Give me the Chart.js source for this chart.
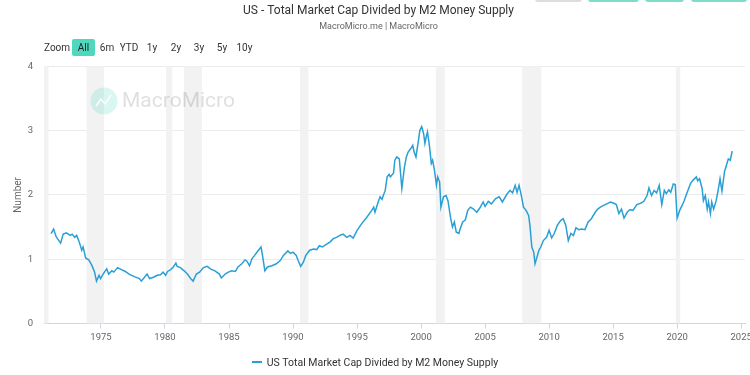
<!DOCTYPE html>
<html>
<head>
<meta charset="utf-8">
<script src="https://cdn.jsdelivr.net/npm/chart.js@4.4.1/dist/chart.umd.min.js"></script>
<style>
  html, body { margin: 0; padding: 0; background: #fff; }
  #wrap { position: relative; width: 750px; height: 375px; font-family: Roboto, "Liberation Sans", sans-serif; }
  #myChart { position: absolute; left: 0; top: 0; }
  .range { position: absolute; top: 39px; height: 17px; line-height: 17px; font-size: 10px; color: #333; }
  .range.btn { text-align: center; }
  .range.sel { background: #4fd8bd; color: #222; border-radius: 2px; }
  .topbox { position: absolute; top: -6px; height: 8px; border-radius: 3px; }
  #legend { position: absolute; left: 0; width: 750px; top: 356px; text-align: center; font-size: 10.5px; color: #333; line-height: 14px; }
  #legend .swatch { display: inline-block; width: 10px; height: 2px; vertical-align: middle; margin-right: 5px; position: relative; top: -1px; }
</style>
</head>
<body>
<div id="wrap">
  <canvas id="myChart" width="750" height="375"></canvas>
  <div class="topbox" style="left:535px;width:47px;background:#ddd"></div>
  <div class="topbox" style="left:588px;width:51px;background:#7fdcc8"></div>
  <div class="topbox" style="left:645px;width:39px;background:#7fdcc8"></div>
  <div class="topbox" style="left:691px;width:56px;background:#7fdcc8"></div>
  <div class="range" style="left:44px">Zoom</div>
  <div class="range btn sel" style="left:72px;width:23px">All</div>
  <div class="range btn" style="left:99px;width:16px">6m</div>
  <div class="range btn" style="left:119px;width:20px">YTD</div>
  <div class="range btn" style="left:145px;width:14px">1y</div>
  <div class="range btn" style="left:169px;width:14px">2y</div>
  <div class="range btn" style="left:192px;width:14px">3y</div>
  <div class="range btn" style="left:215px;width:14px">5y</div>
  <div class="range btn" style="left:236px;width:17px">10y</div>
  <div id="legend"></div>
</div>
<script>
// decimal years and ratio values
const dates = [
  1971.1, 1971.3, 1971.5, 1971.6, 1971.85, 1972.05, 1972.3, 1972.6, 1972.75, 1972.95,
  1973.1, 1973.3, 1973.5, 1973.6, 1973.7, 1973.8, 1974.05, 1974.3, 1974.5, 1974.65,
  1974.85, 1974.97, 1975.2, 1975.45, 1975.6, 1975.85, 1976.0, 1976.3, 1976.6, 1976.9,
  1977.2, 1977.6, 1978.0, 1978.15, 1978.4, 1978.6, 1978.8, 1979.1, 1979.4, 1979.65,
  1979.85, 1980.05, 1980.2, 1980.45, 1980.65, 1980.85, 1980.95, 1981.2, 1981.5, 1981.75,
  1982.0, 1982.2, 1982.45, 1982.7, 1983.0, 1983.3, 1983.55, 1983.9, 1984.25, 1984.4,
  1984.7, 1984.95, 1985.2, 1985.5, 1985.7, 1986.0, 1986.25, 1986.4, 1986.6, 1986.8,
  1987.0, 1987.3, 1987.5, 1987.6, 1987.8, 1988.0, 1988.35, 1988.7, 1989.0, 1989.25,
  1989.6, 1989.8, 1990.0, 1990.25, 1990.4, 1990.6, 1990.8, 1991.0, 1991.3, 1991.6,
  1991.85, 1992.05, 1992.3, 1992.6, 1992.9, 1993.15, 1993.4, 1993.65, 1993.9, 1994.2,
  1994.45, 1994.7, 1995.0, 1995.35, 1995.75, 1996.15, 1996.3, 1996.4, 1996.65, 1996.8,
  1996.95, 1997.05, 1997.2, 1997.35, 1997.5, 1997.6, 1997.85, 1997.95, 1998.1, 1998.3,
  1998.5, 1998.7, 1998.85, 1999.0, 1999.2, 1999.35, 1999.45, 1999.6, 1999.8, 1999.9,
  2000.05, 2000.2, 2000.3, 2000.4, 2000.5, 2000.65, 2000.8, 2000.9, 2001.05, 2001.2,
  2001.3, 2001.45, 2001.55, 2001.75, 2001.95, 2002.1, 2002.3, 2002.45, 2002.6, 2002.75,
  2002.95, 2003.05, 2003.25, 2003.45, 2003.65, 2003.85, 2004.1, 2004.35, 2004.6, 2004.85,
  2005.0, 2005.25, 2005.5, 2005.8, 2006.1, 2006.35, 2006.7, 2006.95, 2007.15, 2007.35,
  2007.5, 2007.65, 2007.8, 2008.0, 2008.2, 2008.4, 2008.5, 2008.65, 2008.8, 2008.9,
  2009.05, 2009.2, 2009.35, 2009.55, 2009.8, 2010.0, 2010.2, 2010.4, 2010.65, 2010.9,
  2011.1, 2011.3, 2011.5, 2011.7, 2011.9, 2012.1, 2012.3, 2012.55, 2012.8, 2013.05,
  2013.3, 2013.6, 2013.8, 2014.0, 2014.3, 2014.5, 2014.8, 2015.05, 2015.25, 2015.45,
  2015.65, 2015.85, 2016.1, 2016.3, 2016.55, 2016.85, 2017.15, 2017.4, 2017.65, 2017.8,
  2018.0, 2018.2, 2018.4, 2018.6, 2018.8, 2019.0, 2019.15, 2019.35, 2019.5, 2019.7,
  2019.85, 2020.0, 2020.2, 2020.4, 2020.55, 2020.75, 2020.9, 2021.05, 2021.25, 2021.5,
  2021.6, 2021.75, 2021.95, 2022.05, 2022.2, 2022.35, 2022.45, 2022.6, 2022.7, 2022.85,
  2023.05, 2023.2, 2023.35, 2023.5, 2023.7, 2023.85, 2024.0, 2024.15, 2024.3
];
const values = [
  1.40, 1.47, 1.35, 1.32, 1.25, 1.39, 1.41, 1.37, 1.39, 1.34,
  1.37, 1.27, 1.14, 1.19, 1.11, 1.02, 0.99, 0.90, 0.80, 0.66,
  0.75, 0.70, 0.78, 0.85, 0.77, 0.82, 0.80, 0.87, 0.84, 0.81,
  0.77, 0.73, 0.70, 0.66, 0.72, 0.77, 0.70, 0.72, 0.75, 0.76,
  0.80, 0.75, 0.81, 0.84, 0.88, 0.94, 0.89, 0.87, 0.82, 0.77,
  0.70, 0.66, 0.77, 0.80, 0.87, 0.89, 0.85, 0.82, 0.77, 0.71,
  0.77, 0.80, 0.82, 0.81, 0.88, 0.93, 0.99, 0.97, 0.90, 1.01,
  1.06, 1.14, 1.19, 1.08, 0.82, 0.88, 0.90, 0.93, 0.98, 1.06,
  1.13, 1.09, 1.11, 1.06, 0.98, 0.89, 0.95, 1.06, 1.14, 1.16,
  1.15, 1.21, 1.19, 1.23, 1.27, 1.32, 1.34, 1.37, 1.39, 1.34,
  1.37, 1.33, 1.45, 1.55, 1.65, 1.76, 1.81, 1.73, 1.89, 1.97,
  1.93, 1.99, 2.07, 2.28, 2.32, 2.28, 2.34, 2.54, 2.59, 2.56,
  2.10, 2.43, 2.59, 2.67, 2.72, 2.77, 2.67, 2.59, 2.85, 3.00,
  3.06, 2.95, 2.80, 2.90, 2.98, 2.77, 2.49, 2.54, 2.38, 2.15,
  2.28, 2.20, 1.81, 1.97, 1.99, 1.91, 1.65, 1.50, 1.58, 1.42,
  1.40, 1.47, 1.58, 1.61, 1.76, 1.81, 1.78, 1.73, 1.80, 1.89,
  1.82, 1.90, 1.86, 1.94, 1.97, 1.89, 2.01, 2.07, 2.03, 2.15,
  2.04, 2.15, 2.02, 1.81, 1.76, 1.68, 1.53, 1.19, 1.11, 0.93,
  1.03, 1.14, 1.19, 1.29, 1.34, 1.45, 1.33, 1.40, 1.53, 1.60,
  1.63, 1.53, 1.29, 1.40, 1.37, 1.49, 1.46, 1.47, 1.46, 1.58,
  1.63, 1.73, 1.78, 1.81, 1.84, 1.86, 1.89, 1.87, 1.85, 1.71,
  1.78, 1.64, 1.73, 1.77, 1.76, 1.85, 1.87, 1.90, 1.99, 2.11,
  1.99, 2.07, 2.03, 2.15, 1.85, 2.07, 2.02, 2.08, 2.04, 2.17,
  2.16, 1.64, 1.76, 1.84, 1.91, 2.02, 2.10, 2.18, 2.23, 2.28,
  2.22, 2.25, 2.10, 1.91, 1.99, 1.78, 1.89, 1.71, 1.89, 1.78,
  1.91, 2.07, 2.25, 2.06, 2.36, 2.46, 2.56, 2.54, 2.68
];
const tickYears = [1975, 1980, 1985, 1990, 1995, 2000, 2005, 2010, 2015, 2020, 2025];
const yTicks = [0, 1, 2, 3, 4];
// US recessions (shaded)
const recessionStart = [1969.9, 1973.88, 1980.08, 1981.48, 1990.55, 2001.15, 2007.9, 2019.9];
const recessionEnd   = [1970.9, 1975.23, 1980.57, 1982.89, 1991.2, 2001.85, 2009.4, 2020.25];

const seriesName = 'US Total Market Cap Divided by M2 Money Supply';
const lineColor = '#2a9fd6';

document.getElementById('legend').innerHTML =
  '<span class="swatch" style="background:' + lineColor + '"></span>' + seriesName;

const backdrop = {
  id: 'backdrop',
  beforeDatasetsDraw(chart) {
    const { ctx, chartArea: a, scales: { x } } = chart;
    ctx.save();
    ctx.beginPath();
    ctx.rect(a.left, a.top, a.right - a.left, a.bottom - a.top);
    ctx.clip();
    ctx.fillStyle = '#f2f2f2';
    recessionStart.forEach((s, i) => {
      const x0 = x.getPixelForValue(s);
      const x1 = x.getPixelForValue(recessionEnd[i]);
      ctx.fillRect(x0, a.top, x1 - x0, a.bottom - a.top);
    });
    ctx.restore();
    // watermark
    ctx.save();
    ctx.fillStyle = 'rgba(80, 214, 185, 0.22)';
    ctx.beginPath();
    ctx.arc(104, 101, 13.5, 0, Math.PI * 2);
    ctx.fill();
    ctx.strokeStyle = 'rgba(255,255,255,0.9)';
    ctx.lineWidth = 1.5;
    ctx.beginPath();
    ctx.moveTo(96, 106); ctx.lineTo(101, 99); ctx.lineTo(105, 104); ctx.lineTo(111, 95);
    ctx.stroke();
    ctx.fillStyle = 'rgba(0, 0, 0, 0.13)';
    ctx.font = '21px Roboto, sans-serif';
    ctx.textBaseline = 'middle';
    ctx.fillText('MacroMicro', 122, 102);
    ctx.restore();
  }
};

const ctx = document.getElementById('myChart').getContext('2d');
const myChart = new Chart(ctx, {
  type: 'line',
  data: {
    datasets: [{
      label: seriesName,
      data: dates.map((d, i) => ({ x: d, y: values[i] })),
      borderColor: lineColor,
      backgroundColor: lineColor,
      borderWidth: 1.5,
      pointRadius: 0,
      tension: 0
    }]
  },
  options: {
    responsive: false,
    animation: false,
    layout: {
      padding: { left: 12, right: 5, top: 0, bottom: 29 }
    },
    plugins: {
      title: {
        display: true,
        text: 'US - Total Market Cap Divided by M2 Money Supply',
        color: '#333',
        font: { family: 'Roboto', size: 12, weight: 'normal' },
        padding: { top: 4, bottom: 2 }
      },
      subtitle: {
        display: true,
        text: 'MacroMicro.me | MacroMicro',
        color: '#666',
        font: { family: 'Roboto', size: 9 },
        padding: { top: 1, bottom: 34 }
      },
      legend: { display: false },
      tooltip: { enabled: false }
    },
    scales: {
      x: {
        type: 'linear',
        min: 1970.55,
        max: 2025.3,
        afterBuildTicks: (s) => { s.ticks = tickYears.map(v => ({ value: v })); },
        afterFit: (s) => { s.paddingRight = 0; s.paddingLeft = 0; },
        grid: { drawOnChartArea: false, drawTicks: true, tickLength: 5, color: '#ccd6eb' },
        border: { color: '#ccd6eb' },
        ticks: {
          color: '#666',
          font: { family: 'Roboto', size: 9.5 },
          maxRotation: 0,
          padding: 3,
          callback: (v) => String(v)
        }
      },
      y: {
        min: 0,
        max: 4,
        afterBuildTicks: (s) => { s.ticks = yTicks.map(v => ({ value: v })); },
        afterFit: (s) => { s.width = 32; },
        grid: { color: '#ebebeb', drawTicks: false },
        border: { display: false },
        title: {
          display: true,
          text: 'Number',
          color: '#666',
          font: { family: 'Roboto', size: 10 },
          padding: { top: 0, bottom: 0 }
        },
        ticks: {
          color: '#666',
          font: { family: 'Roboto', size: 9.5 },
          padding: 11
        }
      }
    }
  },
  plugins: [backdrop]
});
</script>
</body>
</html>
